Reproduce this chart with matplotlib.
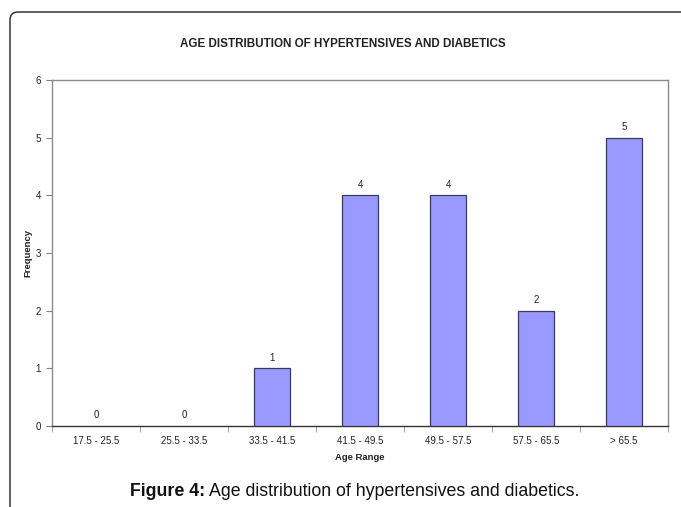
import matplotlib
matplotlib.use("Agg")
import matplotlib.pyplot as plt
from matplotlib.patches import FancyBboxPatch

plt.rcParams['font.family'] = ['Liberation Sans', 'DejaVu Sans']

# data
age_ranges = ['17.5 - 25.5', '25.5 - 33.5', '33.5 - 41.5', '41.5 - 49.5',
              '49.5 - 57.5', '57.5 - 65.5', '> 65.5']
frequency = [0, 0, 1, 4, 4, 2, 5]
y_ticks = [0, 1, 2, 3, 4, 5, 6]

fig = plt.figure(figsize=(6.81, 5.07), dpi=100)

# outer frame with rounded top-left corner
frame = FancyBboxPatch((0.10, -0.5), 7.5, 0.5 + 4.95,
                       boxstyle="round,pad=0,rounding_size=0.08",
                       transform=fig.dpi_scale_trans, fill=False,
                       edgecolor='#333333', linewidth=1.1, clip_on=False)
fig.patches.append(frame)

ax = fig.add_axes([52 / 681, 81 / 507, (668 - 52) / 681, (426 - 80) / 507])
x = list(range(len(age_ranges)))
bars = ax.bar(x, frequency, width=0.41, color='#9999FF',
              edgecolor='#3a3a5a', linewidth=0.9, zorder=3)
for b, v in zip(bars, frequency):
    if v == 0:
        b.set_linewidth(0)

for xi, v in zip(x, frequency):
    ax.text(xi, v + 0.1, str(v), ha='center', va='bottom', fontsize=7,
            color='#222222')

ax.set_xlim(-0.5, len(age_ranges) - 0.5)
ax.set_ylim(0, 6)
ax.set_yticks(y_ticks)
ax.tick_params(axis='y', length=4, width=0.8, color='#808080',
               labelsize=7, pad=4, labelcolor='#222222')

ax.set_xticks(x)
ax.set_xticklabels(age_ranges)
ax.tick_params(axis='x', which='major', length=0, labelsize=7, pad=7,
               labelcolor='#222222')
ax.set_xticks([i - 0.5 for i in range(len(age_ranges) + 1)], minor=True)
ax.tick_params(axis='x', which='minor', length=4, width=0.6, color='#999999')

for side in ['top', 'right', 'left']:
    ax.spines[side].set_color('#8c8c8c')
    ax.spines[side].set_linewidth(1.0)
ax.spines['bottom'].set_color('#333333')
ax.spines['bottom'].set_linewidth(1.0)

ax.set_xlabel('Age Range', fontsize=6.8, fontweight='bold', labelpad=5,
              color='#222222')
ax.set_ylabel('Frequency', fontsize=6.8, fontweight='bold', labelpad=2,
              color='#222222')

fig.text(343 / 681, 1 - 44 / 507,
         'AGE DISTRIBUTION OF HYPERTENSIVES AND DIABETICS',
         ha='center', va='center', fontsize=8.4, fontweight='bold',
         color='#222222')

# caption: bold label followed by normal text
cap_y = 1 - 491 / 507
t1 = fig.text(130 / 681, cap_y, 'Figure 4:', ha='left', va='center',
              fontsize=12.8, fontweight='bold', color='#111111')
fig.canvas.draw()
bb = t1.get_window_extent()
fig.text((bb.x1 + 4) / 681, cap_y, 'Age distribution of hypertensives and diabetics.',
         ha='left', va='center', fontsize=12.8, color='#111111')

fig.savefig('out.png', dpi=100)
